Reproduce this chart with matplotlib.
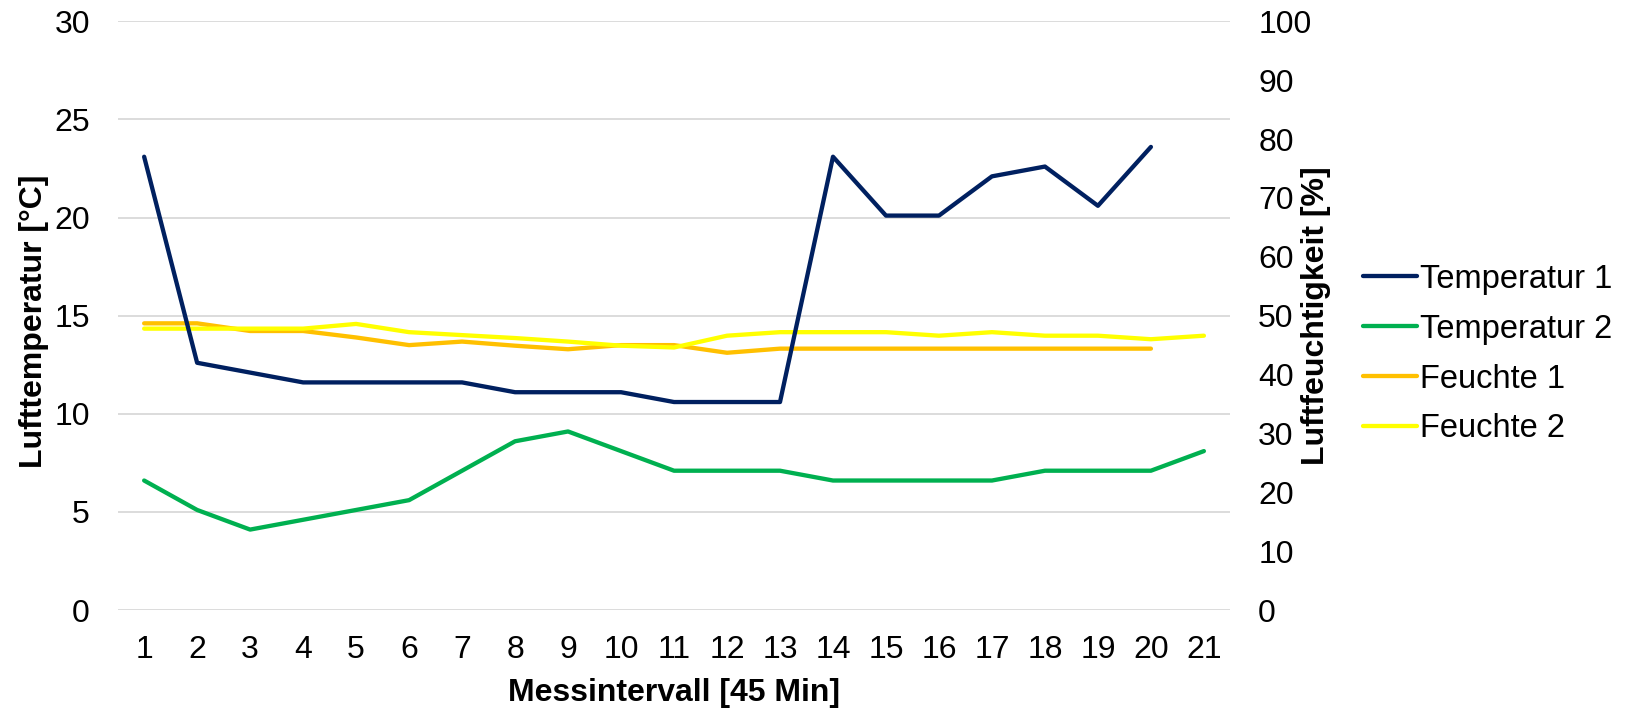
import matplotlib
matplotlib.use("Agg")
import matplotlib.pyplot as plt
from matplotlib.lines import Line2D

plt.rcParams['font.family'] = ['Liberation Sans', 'DejaVu Sans']

intervals = list(range(1, 22))
temp_1 = [23.1, 12.6, 12.1, 11.6, 11.6, 11.6, 11.6, 11.1, 11.1, 11.1, 10.6,
          10.6, 10.6, 23.1, 20.1, 20.1, 22.1, 22.6, 20.6, 23.6, None]
temp_2 = [6.6, 5.1, 4.1, 4.6, 5.1, 5.6, 7.1, 8.6, 9.1, 8.1, 7.1,
          7.1, 7.1, 6.6, 6.6, 6.6, 6.6, 7.1, 7.1, 7.1, 8.1]
feuchte_1 = [48.7, 48.7, 47.4, 47.4, 46.3, 45.0, 45.6, 44.9, 44.3, 45.0, 45.0,
             43.7, 44.4, 44.4, 44.4, 44.4, 44.4, 44.4, 44.4, 44.4, None]
feuchte_2 = [47.8, 47.8, 47.8, 47.8, 48.6, 47.2, 46.7, 46.2, 45.6, 44.9, 44.6,
             46.6, 47.2, 47.2, 47.2, 46.6, 47.2, 46.6, 46.6, 46.0, 46.6]

c_t1 = '#002060'
c_t2 = '#00B050'
c_f1 = '#FFC000'
c_f2 = '#FFFF00'

fs = 23
lw = 3.1

fig = plt.figure(figsize=(16.34, 7.11), dpi=100)
ax = fig.add_axes([0.072, 0.142, 0.681, 0.828])
ax2 = ax.twinx()

# humidity on the secondary axis, drawn underneath the temperatures
x_f1 = [x for x, v in zip(intervals, feuchte_1) if v is not None]
y_f1 = [v for v in feuchte_1 if v is not None]
ax2.plot(x_f1, y_f1, color=c_f1, lw=lw, solid_capstyle='round')
ax2.plot(intervals, feuchte_2, color=c_f2, lw=lw, solid_capstyle='round')

x_t1 = [x for x, v in zip(intervals, temp_1) if v is not None]
y_t1 = [v for v in temp_1 if v is not None]
ax.plot(x_t1, y_t1, color=c_t1, lw=lw, solid_capstyle='round')
ax.plot(intervals, temp_2, color=c_t2, lw=lw, solid_capstyle='round')

ax.set_zorder(ax2.get_zorder() + 1)
ax.patch.set_visible(False)

ax.set_xlim(0.5, 21.5)
ax.set_ylim(0, 30)
ax.set_yticks(range(0, 31, 5))
ax2.set_ylim(0, 100)
ax2.set_yticks(range(0, 101, 10))
ax.set_xticks(intervals)

ax.grid(axis='y', color='#D9D9D9', lw=1.3)
ax.set_axisbelow(True)

for a in (ax, ax2):
    for s in a.spines.values():
        s.set_visible(False)
    a.tick_params(length=0, labelsize=fs)
ax.tick_params(axis='y', pad=20)
ax.tick_params(axis='x', pad=18)
ax2.tick_params(axis='y', pad=20)

ax.set_xlabel('Messintervall [45 Min]', fontsize=fs, fontweight='bold')
ax.set_ylabel('Lufttemperatur [°C]', fontsize=fs, fontweight='bold')
ax2.set_ylabel('Luftfeuchtigkeit [%]', fontsize=fs, fontweight='bold')
ax.xaxis.set_label_coords(0.5, -0.115)
ax.yaxis.set_label_coords(-0.062, 0.49)
ax2.yaxis.set_label_coords(1.063, 0.5)

handles = [Line2D([], [], color=c, lw=lw, solid_capstyle='round')
           for c in (c_t1, c_t2, c_f1, c_f2)]
labels = ['Temperatur 1', 'Temperatur 2', 'Feuchte 1', 'Feuchte 2']
fig.legend(handles, labels, loc='center left', bbox_to_anchor=(0.834, 0.502),
           frameon=False, fontsize=23.5, handlelength=1.66, handletextpad=0.1,
           labelspacing=0.58, borderaxespad=0, borderpad=0)

fig.savefig('out.png', dpi=100)
